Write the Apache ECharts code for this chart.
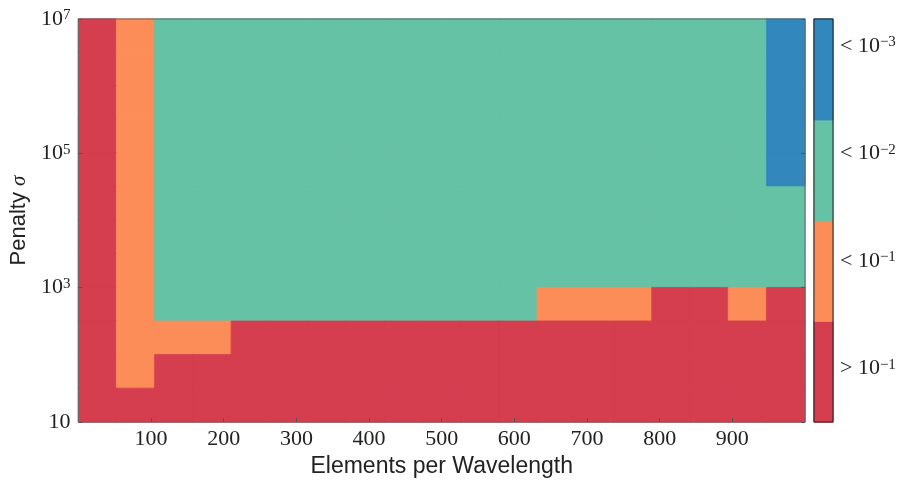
<!DOCTYPE html>
<html><head><meta charset="utf-8">
<script src="https://cdn.jsdelivr.net/npm/echarts@6/dist/echarts.min.js"></script>
<style>html,body{margin:0;padding:0;background:#fff}#c{width:903px;height:484px}</style>
</head><body><div id="c"></div>
<script>
// Tick labels
const xTicks = [100, 200, 300, 400, 500, 600, 700, 800, 900];
const yTicks = [10, 1e3, 1e5, 1e7];
// Error levels: 0 = "> 10^-1", 1 = "< 10^-1", 2 = "< 10^-2", 3 = "< 10^-3"
const levelColors = ['#d53e4f', '#fc8d59', '#66c2a5', '#3288bd'];
const levelRelations = ['>', '<', '<', '<'];
const levelExponents = ['\u22121', '\u22121', '\u22122', '\u22123'];
const colorbarTicks = [0.5, 1.5, 2.5, 3.5];
// Grid of error levels: 19 columns (elements per wavelength) per row,
// rows listed from highest penalty (top) to lowest (bottom), half-decade steps.
const r1  = [0,1,2,2,2,2,2,2,2,2,2,2,2,2,2,2,2,2,3];
const r2  = [0,1,2,2,2,2,2,2,2,2,2,2,2,2,2,2,2,2,3];
const r3  = [0,1,2,2,2,2,2,2,2,2,2,2,2,2,2,2,2,2,3];
const r4  = [0,1,2,2,2,2,2,2,2,2,2,2,2,2,2,2,2,2,3];
const r5  = [0,1,2,2,2,2,2,2,2,2,2,2,2,2,2,2,2,2,3];
const r6  = [0,1,2,2,2,2,2,2,2,2,2,2,2,2,2,2,2,2,2];
const r7  = [0,1,2,2,2,2,2,2,2,2,2,2,2,2,2,2,2,2,2];
const r8  = [0,1,2,2,2,2,2,2,2,2,2,2,2,2,2,2,2,2,2];
const r9  = [0,1,2,2,2,2,2,2,2,2,2,2,1,1,1,0,0,1,0];
const r10 = [0,1,1,1,0,0,0,0,0,0,0,0,0,0,0,0,0,0,0];
const r11 = [0,1,0,0,0,0,0,0,0,0,0,0,0,0,0,0,0,0,0];
const r12 = [0,0,0,0,0,0,0,0,0,0,0,0,0,0,0,0,0,0,0];
const rows = [r1, r2, r3, r4, r5, r6, r7, r8, r9, r10, r11, r12];

const nCols = r1.length, nRows = rows.length;
const colIdx = Array.from({length: nCols}, (_, i) => String(i));
const rowIdx = Array.from({length: nRows}, (_, i) => String(i));
const cells = [];
rows.forEach((row, r) => row.forEach((lvl, c) => cells.push({
  value: [c, nRows - 1 - r, lvl],
  itemStyle: {borderColor: levelColors[lvl], borderWidth: 0.8}
})));
const barCells = levelColors.map((col, i) => ({
  value: [0, i, i], itemStyle: {borderColor: col, borderWidth: 0.8}
}));

const serif = 'Liberation Serif';
const ink = '#222';
const rich = {
  b: {fontFamily: serif, fontSize: 22, color: ink},
  s: {fontFamily: serif, fontSize: 15, color: ink, verticalAlign: 'top'}
};

const chart = echarts.init(document.getElementById('c'), null, {renderer: 'canvas'});
chart.setOption({
  animation: false,
  backgroundColor: '#fff',
  grid: [
    {left: 76, right: 98, top: 19, bottom: 62, show: true, z: 10, borderColor: '#666', borderWidth: 1, backgroundColor: 'transparent'},
    {left: 814, width: 19, top: 19, bottom: 62, show: true, z: 10, borderColor: '#222', borderWidth: 1, backgroundColor: 'transparent'}
  ],
  xAxis: [
    {type: 'category', gridIndex: 0, data: colIdx, show: false, position: 'top'},
    {type: 'value', gridIndex: 0, min: 0, max: 1000, position: 'bottom', z: 10,
     axisLine: {show: false}, splitLine: {show: false},
     axisTick: {inside: true, length: 4, lineStyle: {color: '#555'}, customValues: xTicks},
     axisLabel: {customValues: xTicks, margin: 6, fontFamily: serif, fontSize: 22, color: ink},
     name: 'Elements per Wavelength', nameLocation: 'middle', nameGap: 33,
     nameTextStyle: {fontFamily: 'Liberation Sans', fontSize: 23, color: ink}},
    {type: 'category', gridIndex: 1, data: ['c'], show: false}
  ],
  yAxis: [
    {type: 'category', gridIndex: 0, data: rowIdx, show: false, position: 'right'},
    {type: 'log', gridIndex: 0, min: 10, max: 1e7, position: 'left', z: 10,
     axisLine: {show: false}, splitLine: {show: false}, minorTick: {show: false},
     axisTick: {inside: true, length: 4, lineStyle: {color: '#555'}, customValues: yTicks},
     axisLabel: {customValues: yTicks, margin: 8, rich: rich,
       formatter: v => { const e = Math.round(Math.log10(v)); return e === 1 ? '{b|10}' : '{b|10}{s|' + e + '}'; }},
     name: 'Penalty {i|\u03c3}', nameLocation: 'middle', nameGap: 44, nameRotate: 90,
     nameTextStyle: {fontFamily: 'Liberation Sans', fontSize: 22, color: ink,
       rich: {i: {fontFamily: serif, fontStyle: 'italic', fontSize: 21, color: ink}}}},
    {type: 'log', gridIndex: 0, min: 10, max: 1e7, position: 'right', z: 10,
     axisLine: {show: false}, splitLine: {show: false}, axisLabel: {show: false},
     axisTick: {inside: true, length: 4, lineStyle: {color: '#555'}, customValues: yTicks}},
    {type: 'category', gridIndex: 1, data: ['0', '1', '2', '3'], show: false, position: 'left'},
    {type: 'value', gridIndex: 1, min: 0, max: 3.75, position: 'right', z: 10,
     axisLine: {show: false}, splitLine: {show: false},
     axisTick: {inside: true, length: 4, lineStyle: {color: '#333'}, customValues: colorbarTicks},
     axisLabel: {customValues: colorbarTicks, margin: 7, rich: rich,
       formatter: v => { const i = Math.floor(v); return '{b|' + levelRelations[i] + ' 10}{s|' + levelExponents[i] + '}'; }}}
  ],
  visualMap: {type: 'piecewise', show: false, seriesIndex: [0, 1], dimension: 2,
    pieces: levelColors.map((c, i) => ({value: i, color: c}))},
  series: [
    {type: 'heatmap', xAxisIndex: 0, yAxisIndex: 0, data: cells},
    {type: 'heatmap', xAxisIndex: 2, yAxisIndex: 3, data: barCells}
  ]
});
</script></body></html>
